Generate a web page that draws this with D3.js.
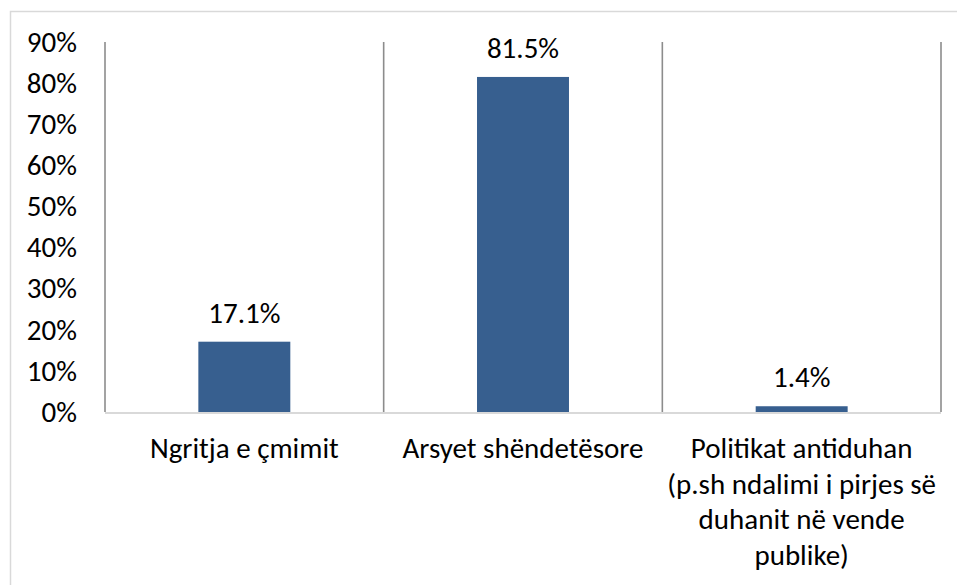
<!DOCTYPE html>
<html>
<head>
<meta charset="utf-8">
<script src="https://cdn.jsdelivr.net/npm/d3@7"></script>
<style>
  body { margin: 0; background: #fff; }
  text { font-family: Carlito, Calibri, Lato, sans-serif; fill: #000; }
</style>
</head>
<body>
<div id="chart-area"></div>
<script>
// DATA
var categories = [
    "Ngritja e çmimit",
    "Arsyet shëndetësore",
    "Politikat antiduhan\n(p.sh ndalimi i pirjes së\nduhanit në vende\npublike)"
];
var values = [17.1, 81.5, 1.4];
var yTicks = [0, 10, 20, 30, 40, 50, 60, 70, 80, 90];

var W = 957, H = 585;
var margin = { left: 105, right: 16, top: 42, bottom: 173 };
var width = W - margin.left - margin.right,
    height = H - margin.top - margin.bottom;
var fontSize = "29px";

var svg = d3.select("#chart-area").append("svg")
    .attr("width", W)
    .attr("height", H);

// chart frame (only top + left fall inside the picture)
svg.append("rect")
    .attr("x", 10.5).attr("y", 11.5)
    .attr("width", 1000).attr("height", 1000)
    .attr("fill", "none")
    .attr("stroke", "#d9d9d9")
    .attr("stroke-width", 1.5);

var g = svg.append("g")
    .attr("transform", "translate(" + margin.left + "," + margin.top + ")");

// Scales
var x = d3.scaleBand().domain(categories).range([0, width]).paddingInner(0).paddingOuter(0);
var y = d3.scaleLinear().domain([0, 90]).range([height, 0]);

// vertical separators between categories
var seps = categories.map(c => x(c)).concat([width]);
g.selectAll(".sep").data(seps).enter().append("line")
    .attr("class", "sep")
    .attr("x1", d => d).attr("x2", d => d)
    .attr("y1", 0).attr("y2", height)
    .attr("stroke", "#8c8c8c")
    .attr("stroke-width", 1.6);

// Bars
var barW = x.bandwidth() * 0.33;
g.selectAll(".bar").data(values).enter().append("rect")
    .attr("class", "bar")
    .attr("x", (d, i) => x(categories[i]) + x.bandwidth() / 2 - barW / 2)
    .attr("y", d => y(d))
    .attr("width", barW)
    .attr("height", d => height - y(d))
    .attr("fill", "#375f8f");

// bottom axis line
g.append("line")
    .attr("x1", 0).attr("x2", width)
    .attr("y1", height + 1).attr("y2", height + 1)
    .attr("stroke", "#d9d9d9")
    .attr("stroke-width", 1.8);

// Y axis labels
var yAxisCall = d3.axisLeft(y).tickValues(yTicks).tickSize(0).tickPadding(28)
    .tickFormat(d => d + "%");
var yAxis = g.append("g").call(yAxisCall);
yAxis.select(".domain").remove();
yAxis.selectAll("text")
    .style("font-family", "Carlito, Calibri, Lato, sans-serif")
    .style("font-size", fontSize)
    .attr("fill", "#000");

// value labels
g.selectAll(".val").data(values).enter().append("text")
    .attr("class", "val")
    .attr("x", (d, i) => x(categories[i]) + x.bandwidth() / 2)
    .attr("y", d => y(d) - 19)
    .attr("text-anchor", "middle")
    .style("font-size", fontSize)
    .text(d => d.toFixed(1) + "%");

// category labels
var cat = g.selectAll(".cat").data(categories).enter().append("text")
    .attr("class", "cat")
    .attr("x", d => x(d) + x.bandwidth() / 2)
    .attr("y", height + 46)
    .attr("text-anchor", "middle")
    .style("font-size", fontSize);
cat.each(function(d) {
    var lines = d.split("\n");
    d3.select(this).selectAll("tspan").data(lines).enter().append("tspan")
        .attr("x", x(d) + x.bandwidth() / 2)
        .attr("dy", (l, i) => i === 0 ? 0 : 35.5)
        .text(l => l);
});
</script>
</body>
</html>
